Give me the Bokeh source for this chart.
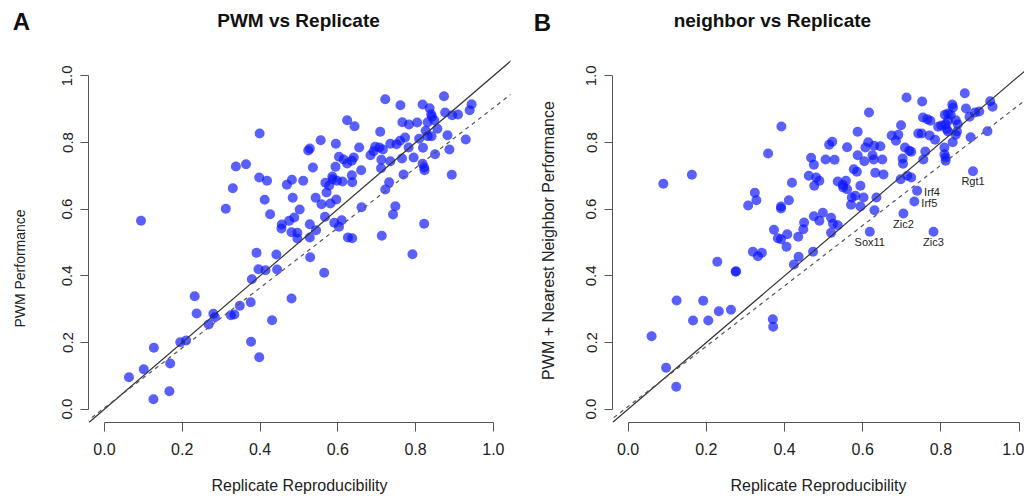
import math
from bokeh.plotting import figure
from bokeh.layouts import row
from bokeh.models import Slope, Label, FixedTicker, NumeralTickFormatter, ColumnDataSource
from bokeh.core.properties import value
from bokeh.embed import file_html
from bokeh.resources import INLINE

FONT = "Liberation Sans"

# ---------------- data ----------------
tick_values = [0.0, 0.2, 0.4, 0.6, 0.8, 1.0]

# Panel A: PWM vs Replicate
pwm_x = [0.399, 0.338, 0.364, 0.398, 0.418, 0.330, 0.482, 0.469, 0.511, 0.412, 0.484, 0.312, 0.426, 0.094,
         0.502, 0.488, 0.475, 0.456, 0.455, 0.481, 0.496, 0.496,
         0.722, 0.873, 0.761, 0.818, 0.836, 0.944, 0.939, 0.840, 0.842, 0.848, 0.876, 0.894, 0.909, 0.624,
         0.643, 0.766, 0.783, 0.804, 0.831, 0.856, 0.826, 0.709, 0.882, 0.831, 0.841, 0.929, 0.556, 0.595,
         0.528, 0.524, 0.655, 0.735, 0.751, 0.760, 0.773, 0.809, 0.819, 0.696, 0.707, 0.716, 0.684, 0.692,
         0.782, 0.887, 0.850, 0.603, 0.615, 0.624, 0.636, 0.641, 0.712, 0.735, 0.765, 0.795, 0.536, 0.594,
         0.660, 0.711, 0.818, 0.822, 0.823, 0.893, 0.769, 0.586, 0.587, 0.568, 0.578, 0.598, 0.612, 0.636,
         0.637, 0.732, 0.571, 0.543, 0.558, 0.581, 0.596, 0.722, 0.661, 0.748, 0.742, 0.567, 0.528, 0.591,
         0.610, 0.603, 0.822, 0.528, 0.544, 0.626, 0.637, 0.713,
         0.529, 0.792, 0.565, 0.481,
         0.391, 0.442, 0.396, 0.414, 0.444, 0.379, 0.232, 0.237, 0.376, 0.348, 0.280, 0.284, 0.325, 0.334,
         0.431, 0.268, 0.195, 0.210, 0.377, 0.398, 0.127, 0.169, 0.101, 0.063, 0.167, 0.126]
pwm_y = [0.827, 0.728, 0.735, 0.695, 0.685, 0.663, 0.688, 0.673, 0.685, 0.628, 0.634, 0.601, 0.585, 0.565,
         0.599, 0.575, 0.565, 0.554, 0.542, 0.531, 0.529, 0.512,
         0.930, 0.939, 0.912, 0.914, 0.903, 0.915, 0.897, 0.885, 0.877, 0.867, 0.890, 0.882, 0.884, 0.867,
         0.849, 0.861, 0.854, 0.860, 0.861, 0.841, 0.835, 0.832, 0.822, 0.819, 0.819, 0.809, 0.807, 0.796,
         0.782, 0.776, 0.785, 0.796, 0.795, 0.805, 0.815, 0.811, 0.784, 0.787, 0.785, 0.779, 0.762, 0.774,
         0.785, 0.779, 0.765, 0.757, 0.749, 0.737, 0.745, 0.755, 0.748, 0.744, 0.752, 0.755, 0.725, 0.727,
         0.717, 0.723, 0.736, 0.725, 0.717, 0.703, 0.704, 0.698, 0.690, 0.679, 0.671, 0.685, 0.683, 0.702,
         0.681, 0.681, 0.650, 0.634, 0.615, 0.617, 0.629, 0.659, 0.606, 0.609, 0.584, 0.577, 0.555, 0.559,
         0.567, 0.547, 0.556, 0.515, 0.537, 0.515, 0.513, 0.520,
         0.456, 0.465, 0.409, 0.332,
         0.469, 0.464, 0.420, 0.417, 0.419, 0.390, 0.339, 0.287, 0.321, 0.310, 0.286, 0.276, 0.282, 0.284,
         0.267, 0.254, 0.201, 0.206, 0.202, 0.156, 0.184, 0.137, 0.120, 0.096, 0.054, 0.030]

# Panel B: PWM + nearest neighbor vs Replicate
nb_x = [0.392, 0.358, 0.163, 0.090, 0.468, 0.475, 0.462, 0.481, 0.476, 0.489, 0.419, 0.324, 0.328, 0.307,
        0.411, 0.391, 0.391, 0.475, 0.489, 0.450, 0.448, 0.373, 0.407, 0.435, 0.383, 0.391,
        0.405, 0.319, 0.332, 0.342, 0.436, 0.424, 0.473, 0.228, 0.275, 0.276, 0.124, 0.192, 0.166, 0.205,
        0.232, 0.263, 0.370, 0.371, 0.060, 0.097, 0.123,
        0.712, 0.861, 0.752, 0.616, 0.926, 0.932, 0.829, 0.831, 0.818, 0.810, 0.825, 0.864, 0.887, 0.898,
        0.754, 0.765, 0.773, 0.838, 0.873, 0.818, 0.812, 0.698, 0.793, 0.801, 0.815, 0.818, 0.843, 0.841,
        0.838, 0.587, 0.742, 0.751, 0.674, 0.691, 0.685, 0.771, 0.785, 0.876, 0.919, 0.830, 0.522, 0.514,
        0.614, 0.607, 0.629, 0.645, 0.560, 0.708, 0.719, 0.724, 0.760, 0.809, 0.809, 0.812, 0.812, 0.587,
        0.625, 0.628, 0.650, 0.505, 0.528, 0.604, 0.702, 0.703, 0.755, 0.577, 0.585, 0.632, 0.653, 0.697,
        0.714, 0.724, 0.536, 0.549, 0.557, 0.550, 0.560, 0.594, 0.572, 0.581, 0.570, 0.602, 0.594, 0.635,
        0.630, 0.704, 0.739, 0.732, 0.882, 0.498, 0.519, 0.524, 0.536, 0.519, 0.618, 0.781]
nb_y = [0.848, 0.767, 0.703, 0.676, 0.754, 0.733, 0.700, 0.695, 0.670, 0.685, 0.679, 0.649, 0.627, 0.611,
        0.627, 0.608, 0.602, 0.579, 0.565, 0.560, 0.540, 0.538, 0.525, 0.517, 0.513, 0.510,
        0.487, 0.472, 0.459, 0.469, 0.457, 0.434, 0.472, 0.442, 0.412, 0.414, 0.326, 0.325, 0.266, 0.266,
        0.294, 0.298, 0.270, 0.247, 0.219, 0.124, 0.067,
        0.935, 0.948, 0.923, 0.890, 0.924, 0.907, 0.914, 0.905, 0.887, 0.883, 0.883, 0.902, 0.890, 0.893,
        0.875, 0.870, 0.865, 0.867, 0.877, 0.865, 0.855, 0.852, 0.847, 0.851, 0.840, 0.833, 0.855, 0.833,
        0.823, 0.832, 0.827, 0.827, 0.821, 0.823, 0.805, 0.821, 0.808, 0.816, 0.834, 0.801, 0.802, 0.793,
        0.801, 0.785, 0.790, 0.789, 0.786, 0.785, 0.775, 0.772, 0.773, 0.785, 0.765, 0.755, 0.745, 0.762,
        0.762, 0.749, 0.749, 0.749, 0.748, 0.744, 0.752, 0.736, 0.749, 0.720, 0.712, 0.709, 0.704, 0.690,
        0.700, 0.695, 0.683, 0.673, 0.685, 0.665, 0.660, 0.670, 0.635, 0.640, 0.613, 0.635, 0.608, 0.635,
        0.597, 0.587, 0.655, 0.623, 0.714, 0.589, 0.574, 0.556, 0.552, 0.529, 0.532, 0.532]

# labelled outliers in panel B
gene_names = ["Rgt1", "Irf4", "Irf5", "Zic2", "Sox11", "Zic3"]
gene_x = [0.882, 0.739, 0.732, 0.704, 0.618, 0.781]
gene_y = [0.714, 0.655, 0.623, 0.587, 0.532, 0.532]
right_side_genes = {"Irf4", "Irf5"}

# reference lines: identity and dashed lower reference
identity_slope, identity_intercept = 1.0, 0.0
pwm_dash_slope, pwm_dash_intercept = 0.90, 0.004
nb_dash_slope, nb_dash_intercept = 0.905, 0.008

# ---------------- layout ----------------
H = 500
FRAME_H, BOTTOM = 422, 78                 # frame spans from the top of the figure to the x axis
PX_PER_UNIT = 360 / 1.08                   # vertical scale of the plotting region
Y_RANGE = (-0.04, 1.04 + 62 / PX_PER_UNIT)  # extra headroom above the plot holds the title
TITLE_Y = 1.04 + (62 - 20) / PX_PER_UNIT


def make_side(width, letter, letter_xy, ylab, ylab_xy, ylab_size):
    """Narrow strip holding the panel letter and the rotated y-axis title (pixel coordinates)."""
    s = figure(width=width, height=H, x_range=(0, width), y_range=(H, 0),
               output_backend="svg", toolbar_location=None, title=None, min_border=0,
               x_axis_type=None, y_axis_type=None, frame_align=False)
    s.outline_line_color = None
    s.grid.visible = False
    s.add_layout(Label(x=letter_xy[0], y=letter_xy[1], text=letter, text_align="center",
                       text_baseline="middle", text_font=FONT, text_font_size="24px",
                       text_font_style="bold", text_color="#111111"))
    s.add_layout(Label(x=ylab_xy[0], y=ylab_xy[1], text=ylab, angle=math.pi / 2,
                       text_align="center", text_baseline="middle", text_font=FONT,
                       text_font_size=ylab_size, text_color="#222222"))
    return s


def make_panel(width, left_border, right_border, x_range, xs, ys, dash_slope, dash_intercept,
               title, title_x):
    p = figure(width=width, height=H, x_range=x_range, y_range=Y_RANGE,
               output_backend="svg", toolbar_location=None, title=None,
               min_border_left=left_border, min_border_right=right_border,
               min_border_top=0, min_border_bottom=BOTTOM)
    p.outline_line_color = None
    p.grid.visible = False

    p.scatter(xs, ys, size=10, fill_color="#0a14ff", fill_alpha=0.68, line_color=None)

    p.add_layout(Slope(gradient=identity_slope, y_intercept=identity_intercept,
                       line_color="#333333", line_width=1.2))
    p.add_layout(Slope(gradient=dash_slope, y_intercept=dash_intercept,
                       line_color="#555555", line_width=1.2, line_dash="4 4"))

    p.add_layout(Label(x=title_x, y=TITLE_Y, text=title, text_align="center",
                       text_baseline="middle", text_font=FONT, text_font_size="19px",
                       text_font_style="bold", text_color="#111111"))

    for ax in (p.xaxis, p.yaxis):
        ax.ticker = FixedTicker(ticks=tick_values)
        ax.bounds = (0, 1)
        ax.formatter = NumeralTickFormatter(format="0.0")
        ax.axis_line_color = "#555555"
        ax.major_tick_line_color = "#555555"
        ax.minor_tick_line_color = None
        ax.major_tick_in = 0
        ax.major_label_text_font = FONT
        ax.major_label_text_color = "#222222"
    p.xaxis.major_tick_out = 9
    p.yaxis.major_tick_out = 8
    p.xaxis.major_label_text_font_size = "16px"
    p.yaxis.major_label_text_font_size = "15px"
    p.xaxis.major_label_standoff = 11
    p.yaxis.major_label_standoff = 8
    p.yaxis.major_label_orientation = "vertical"

    p.xaxis.axis_label = "Replicate Reproducibility"
    p.xaxis.axis_label_text_font = FONT
    p.xaxis.axis_label_text_font_size = "16px"
    p.xaxis.axis_label_text_font_style = "normal"
    p.xaxis.axis_label_text_color = "#222222"
    p.xaxis.axis_label_standoff = 19
    return p


sideA = make_side(42, "A", (21, 21), "PWM Performance", (19, 268), "14px")
pA = make_panel(486, 46, 18, (-0.041, 1.044), pwm_x, pwm_y,
                pwm_dash_slope, pwm_dash_intercept, "PWM vs Replicate", 0.499)
sideB = make_side(34, "B", (14, 22), "PWM + Nearest Neighbor Performance", (20, 240), "16px")
pB = make_panel(462, 50, 0, (-0.04, 1.0137), nb_x, nb_y,
                nb_dash_slope, nb_dash_intercept, "neighbor vs Replicate", 0.369)

# gene labels
below = [i for i, n in enumerate(gene_names) if n not in right_side_genes]
right = [i for i, n in enumerate(gene_names) if n in right_side_genes]
src_below = ColumnDataSource(dict(x=[gene_x[i] for i in below], y=[gene_y[i] for i in below],
                                  t=[gene_names[i] for i in below]))
src_right = ColumnDataSource(dict(x=[gene_x[i] for i in right], y=[gene_y[i] for i in right],
                                  t=[gene_names[i] for i in right]))
pB.text(x="x", y="y", text="t", source=src_below, text_align="center", text_baseline="middle",
        y_offset=10, text_font=value(FONT), text_font_size="11px", text_color="#222222")
pB.text(x="x", y="y", text="t", source=src_right, text_align="left", text_baseline="middle",
        x_offset=7, y_offset=1, text_font=value(FONT), text_font_size="11px", text_color="#222222")

layout = row(sideA, pA, sideB, pB)
open("out.html", "w").write(file_html(layout, INLINE))
